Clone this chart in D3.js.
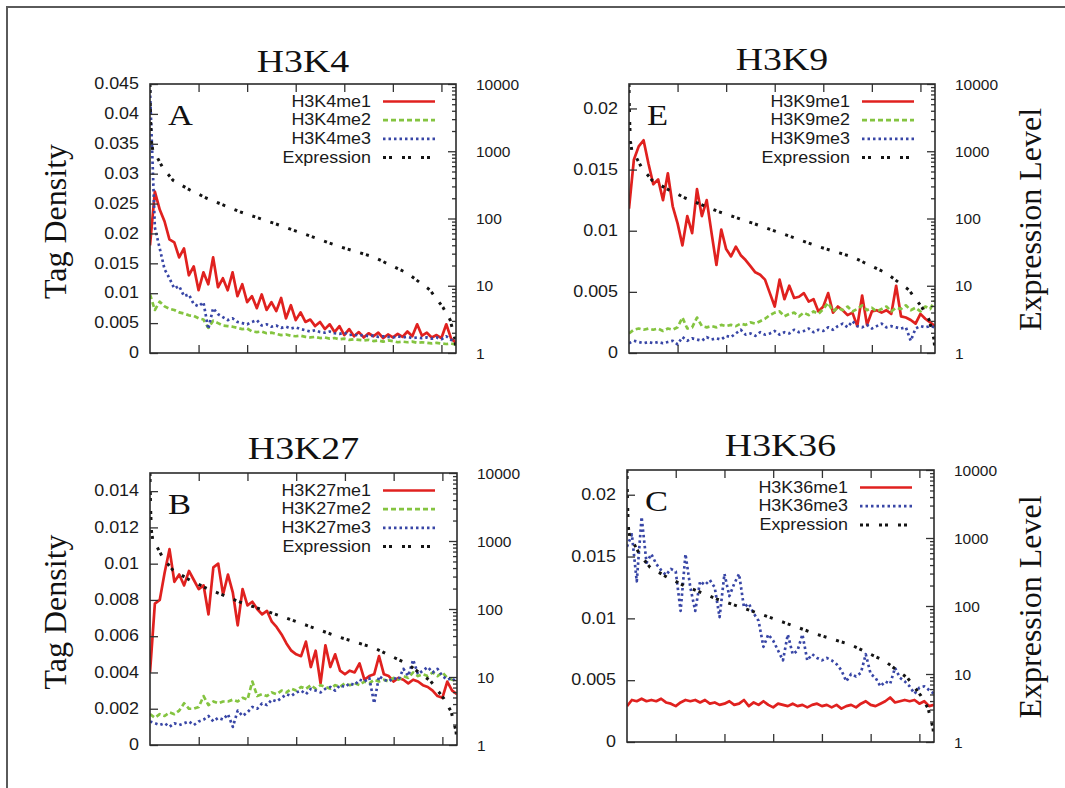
<!DOCTYPE html>
<html>
<head>
<meta charset="utf-8">
<script src="https://cdn.jsdelivr.net/npm/d3@7"></script>
<style>
  body { margin: 0; background: #fff; }
  svg { display: block; }
</style>
</head>
<body>
<svg id="fig" width="1065" height="788"></svg>
<script>
// ---- Tag density per expression-ranked gene bin (bins of 200 genes, highest expression first) ----
const h3k4me1 = [0.018,0.027,0.024,0.022,0.019,0.0185,0.016,0.0175,0.013,0.0145,
  0.0105,0.0135,0.0115,0.016,0.011,0.0125,0.0105,0.0135,0.0095,0.0115,
  0.0085,0.0095,0.0075,0.0098,0.0072,0.0085,0.007,0.0092,0.0058,0.008,
  0.0055,0.0068,0.0052,0.0056,0.0045,0.0052,0.004,0.0048,0.0035,0.0045,
  0.003,0.004,0.0028,0.0035,0.0026,0.0033,0.0028,0.0034,0.0025,0.0031,
  0.0026,0.0032,0.0027,0.0036,0.0028,0.0048,0.0029,0.0034,0.0026,0.003,
  0.0025,0.0048,0.0024,0.0017];
const h3k4me2 = [0.0098,0.0072,0.0086,0.0078,0.0074,0.0072,0.0068,0.0066,0.0063,0.0062,
  0.0058,0.0056,0.0042,0.0054,0.005,0.0046,0.0045,0.0044,0.0042,0.004,
  0.0041,0.0036,0.0035,0.0036,0.0033,0.0034,0.0032,0.003,0.0031,0.0029,
  0.0028,0.0029,0.0027,0.0026,0.0027,0.0025,0.0026,0.0024,0.0025,0.0023,
  0.0024,0.0022,0.0023,0.0022,0.0021,0.0022,0.002,0.0021,0.0019,0.0021,
  0.002,0.0018,0.0019,0.0018,0.0019,0.0017,0.0018,0.0017,0.0016,0.0017,
  0.0016,0.0015,0.0016,0.0014];
const h3k4me3 = [0.044,0.021,0.0175,0.014,0.0125,0.0108,0.0112,0.0095,0.0098,0.0082,
  0.0078,0.0085,0.004,0.0075,0.0065,0.006,0.0055,0.0058,0.0052,0.005,
  0.0048,0.0052,0.0055,0.0046,0.0048,0.0044,0.0046,0.0042,0.0044,0.0041,
  0.0043,0.004,0.0038,0.0036,0.0038,0.0035,0.0034,0.0036,0.0033,0.0032,
  0.0034,0.003,0.0031,0.0029,0.003,0.0028,0.0029,0.0027,0.0028,0.0027,
  0.0026,0.0028,0.0026,0.0027,0.0025,0.0026,0.0025,0.0026,0.0024,0.0026,
  0.0023,0.0028,0.0022,0.002];

const h3k9me1 = [0.0118,0.0158,0.0169,0.0174,0.0155,0.0138,0.0142,0.0125,0.0147,0.012,
  0.0106,0.0088,0.0112,0.0098,0.0134,0.0112,0.0125,0.0098,0.0072,0.0101,
  0.0085,0.0079,0.0087,0.008,0.0076,0.0071,0.0066,0.0064,0.006,0.0049,
  0.0038,0.006,0.0044,0.0055,0.0045,0.0046,0.0049,0.0042,0.0044,0.0034,
  0.0038,0.0049,0.0033,0.0038,0.0035,0.0031,0.0033,0.0022,0.0047,0.0023,
  0.0034,0.0035,0.0033,0.0035,0.0032,0.0055,0.003,0.0029,0.0027,0.0024,
  0.0032,0.0028,0.0025,0.0022];
const h3k9me2 = [0.0016,0.0019,0.002,0.0019,0.002,0.0019,0.002,0.0018,0.002,0.0019,
  0.0021,0.0029,0.002,0.0021,0.0029,0.0022,0.0021,0.0022,0.0021,0.0023,
  0.0022,0.0023,0.0022,0.0024,0.0023,0.0025,0.0024,0.0026,0.0028,0.0031,
  0.0033,0.0034,0.003,0.0032,0.0033,0.003,0.0033,0.0031,0.0034,0.0032,
  0.0036,0.0041,0.0034,0.0037,0.0035,0.0038,0.0034,0.0036,0.0039,0.0035,
  0.0037,0.0034,0.0036,0.0038,0.0034,0.0037,0.0036,0.0039,0.0035,0.0037,
  0.0034,0.0038,0.0036,0.0043];
const h3k9me3 = [0.0008,0.001,0.0009,0.0008,0.0009,0.0008,0.0009,0.0008,0.0009,0.001,
  0.0007,0.0013,0.001,0.0012,0.0011,0.001,0.0013,0.0011,0.0012,0.0011,
  0.0014,0.0013,0.0016,0.0019,0.0015,0.0016,0.0014,0.0017,0.0015,0.0016,
  0.0018,0.0015,0.0017,0.0016,0.0019,0.0017,0.0018,0.002,0.0017,0.0019,
  0.0018,0.0021,0.0019,0.0022,0.0024,0.0021,0.0026,0.0022,0.0021,0.0023,
  0.002,0.0022,0.0024,0.0021,0.0022,0.0021,0.002,0.0021,0.001,0.002,
  0.0022,0.0021,0.0022,0.0021];

const h3k27me1 = [0.004,0.0078,0.008,0.0095,0.0108,0.009,0.0094,0.0088,0.0096,0.0091,
  0.0086,0.0088,0.0072,0.0098,0.01,0.0083,0.0094,0.0084,0.0066,0.0086,
  0.0077,0.0079,0.0075,0.0072,0.0074,0.0068,0.0065,0.0061,0.0056,0.0052,
  0.005,0.0049,0.0057,0.0043,0.0052,0.0034,0.0055,0.0043,0.005,0.0041,
  0.0039,0.0041,0.004,0.0045,0.0036,0.0038,0.0039,0.0049,0.0039,0.0038,
  0.0035,0.0037,0.0036,0.0034,0.0036,0.0035,0.0033,0.0032,0.003,0.0027,
  0.0026,0.0035,0.003,0.0028];
const h3k27me2 = [0.0017,0.0015,0.0017,0.0016,0.0018,0.0017,0.0019,0.0023,0.002,0.002,
  0.0021,0.0027,0.0022,0.0024,0.0023,0.0024,0.0024,0.0025,0.0024,0.0026,
  0.0025,0.0035,0.0027,0.0028,0.0027,0.0029,0.0028,0.003,0.0029,0.0031,
  0.003,0.0032,0.0031,0.0033,0.0031,0.0033,0.0032,0.0031,0.0033,0.0032,
  0.0034,0.0033,0.0034,0.0033,0.0035,0.0034,0.0036,0.0035,0.0036,0.0035,
  0.0037,0.0036,0.0038,0.0037,0.004,0.0038,0.0039,0.0038,0.004,0.0038,
  0.004,0.0037,0.0036,0.0035];
const h3k27me3 = [0.0013,0.0012,0.0011,0.0012,0.001,0.0012,0.0011,0.0012,0.0013,0.0011,
  0.0013,0.0014,0.0016,0.0013,0.0015,0.0014,0.0017,0.001,0.0019,0.0016,
  0.0018,0.0021,0.002,0.0023,0.0022,0.0025,0.0024,0.0026,0.0028,0.0027,
  0.0029,0.003,0.0028,0.0031,0.003,0.0029,0.0031,0.0032,0.003,0.0033,
  0.0032,0.0034,0.0033,0.0036,0.0035,0.0037,0.0023,0.0038,0.0036,0.0035,
  0.0037,0.0036,0.0042,0.0038,0.0047,0.0039,0.0041,0.0043,0.004,0.0042,
  0.0038,0.0036,0.0037,0.0034];

const h3k36me1 = [0.0029,0.0034,0.0033,0.0035,0.0033,0.0034,0.0033,0.0035,0.0032,0.0031,
  0.0029,0.0032,0.0034,0.0033,0.0034,0.0032,0.0034,0.0031,0.0032,0.003,
  0.0031,0.0033,0.003,0.0031,0.0034,0.0029,0.0032,0.003,0.0033,0.003,
  0.0028,0.0031,0.003,0.0029,0.0031,0.0029,0.003,0.0028,0.003,0.0031,
  0.0029,0.003,0.0028,0.003,0.0027,0.0029,0.003,0.0028,0.0031,0.0033,
  0.003,0.0029,0.0031,0.0033,0.0036,0.0032,0.0033,0.0034,0.0033,0.0034,
  0.0031,0.0033,0.0029,0.003];
const h3k36me3 = [0.0158,0.0168,0.013,0.0182,0.0145,0.0152,0.0144,0.0139,0.0135,0.014,
  0.0138,0.0106,0.0152,0.0125,0.0106,0.013,0.0127,0.0131,0.0125,0.0101,
  0.0136,0.0118,0.0128,0.0136,0.0109,0.0112,0.0104,0.0098,0.0077,0.0087,
  0.0082,0.0074,0.0066,0.0087,0.0071,0.0074,0.0087,0.0066,0.0071,0.0068,
  0.0066,0.0068,0.0066,0.0063,0.0058,0.0049,0.0055,0.0053,0.0056,0.0071,
  0.0055,0.0052,0.0045,0.0049,0.0047,0.006,0.0052,0.0049,0.0045,0.0039,
  0.0044,0.0045,0.0042,0.0039];

// ---- Expression level (right axis, log) along the same ranked bins ----
const exprBin   = [0, 0.06, 0.16, 0.3, 0.6, 1.44, 2.68, 4.74, 8.24, 11.7, 18.5, 25.3, 32.3, 39.1, 45.9, 52.9, 57.6, 60.3, 61.8, 62.8, 63];
const exprLevel = [10000, 5000, 2500, 1400, 1000, 820, 560, 370, 265, 200, 126, 86, 57, 38, 27, 15.5, 8.7, 4.8, 3.1, 1.6, 1.0];

// ---- Axis ticks ----
const binTicks = [10, 20, 30, 40, 50, 60];
const tagTicksK4 = [0, 0.005, 0.01, 0.015, 0.02, 0.025, 0.03, 0.035, 0.04, 0.045];
const tagTicksK9 = [0, 0.005, 0.01, 0.015, 0.02];
const tagTicksK27 = [0, 0.002, 0.004, 0.006, 0.008, 0.01, 0.012, 0.014];
const tagTicksK36 = [0, 0.005, 0.01, 0.015, 0.02];
const exprTicks = [1, 10, 100, 1000, 10000];
const exprMinorTicks = [2,3,4,5,6,7,8,9, 20,30,40,50,60,70,80,90, 200,300,400,500,600,700,800,900, 2000,3000,4000,5000,6000,7000,8000,9000];

// ---- Styles ----
const SANS = "'Liberation Sans', Arial, Helvetica, sans-serif";
const SERIF = "'Liberation Serif', 'Times New Roman', serif";
const STYLE = {
  me1:  { color: "#e0211f", width: 2.7, dash: null },
  me2:  { color: "#84c440", width: 2.7, dash: "5,3" },
  me3:  { color: "#3846a6", width: 2.7, dash: "2.5,3" },
  expr: { color: "#141414", width: 3,   dash: "3,3,3,10" }
};

const panels = [
  { title: "H3K4", letter: "A", left: 150, top: 84, width: 306, height: 269, titleY: 72,
    yMax: 0.045, yTicks: tagTicksK4, leftTitle: true, rightTitle: false,
    series: [["H3K4me1", h3k4me1, "me1"], ["H3K4me2", h3k4me2, "me2"], ["H3K4me3", h3k4me3, "me3"]] },
  { title: "H3K9", letter: "E", left: 629, top: 84, width: 306, height: 269, titleY: 70,
    yMax: 0.022, yTicks: tagTicksK9, leftTitle: false, rightTitle: true,
    series: [["H3K9me1", h3k9me1, "me1"], ["H3K9me2", h3k9me2, "me2"], ["H3K9me3", h3k9me3, "me3"]] },
  { title: "H3K27", letter: "B", left: 150, top: 473, width: 307, height: 272, titleY: 459,
    yMax: 0.015, yTicks: tagTicksK27, leftTitle: true, rightTitle: false,
    series: [["H3K27me1", h3k27me1, "me1"], ["H3K27me2", h3k27me2, "me2"], ["H3K27me3", h3k27me3, "me3"]] },
  { title: "H3K36", letter: "C", left: 627, top: 470, width: 307, height: 272, titleY: 456,
    yMax: 0.022, yTicks: tagTicksK36, leftTitle: false, rightTitle: true,
    series: [["H3K36me1", h3k36me1, "me1"], ["H3K36me3", h3k36me3, "me3"]] }
];

const svg = d3.select("#fig");

// outer figure frame (top and left edges)
svg.append("path")
  .attr("d", d3.line()([[7, 788], [7, 7], [1065, 7]]))
  .attr("fill", "none").attr("stroke", "#5a5a5a").attr("stroke-width", 2);

// text helper; sx widens glyphs horizontally
function label(g, x, y, s, o) {
  const t = g.append("text")
    .attr("transform", `translate(${x},${y})` + (o.rotate ? ` rotate(${o.rotate})` : "") + ` scale(${o.sx || 1},1)`)
    .attr("font-family", o.family || SANS)
    .attr("font-size", o.size)
    .attr("text-anchor", o.anchor || "start")
    .attr("fill", o.color || "#1a1a1a")
    .text(s);
  if (o.baseline) t.attr("dominant-baseline", o.baseline);
  return t;
}

const fmtTag = v => String(+v.toFixed(4));

panels.forEach((p, pi) => {
  const g = svg.append("g");
  const right = p.left + p.width, bottom = p.top + p.height;
  const x = d3.scaleLinear().domain([0, h3k4me1.length - 1]).range([p.left, right]);
  const y = d3.scaleLinear().domain([0, p.yMax]).range([bottom, p.top]);
  const y2 = d3.scaleLog().domain([1, 10000]).range([bottom, p.top]);

  const clipId = "clip" + pi;
  g.append("clipPath").attr("id", clipId)
    .append("rect").attr("x", p.left).attr("y", p.top).attr("width", p.width).attr("height", p.height);

  const plot = g.append("g").attr("clip-path", `url(#${clipId})`);
  const tagLine = d3.line().x((d, i) => x(i)).y(d => y(d));
  const exprLine = d3.line().x((d, i) => x(exprBin[i])).y(d => y2(d));

  p.series.forEach(([name, vals, key]) => {
    const st = STYLE[key];
    plot.append("path").datum(vals)
      .attr("d", tagLine)
      .attr("fill", "none").attr("stroke", st.color).attr("stroke-width", st.width)
      .attr("stroke-linejoin", "round")
      .attr("stroke-dasharray", st.dash);
  });
  plot.append("path").datum(exprLevel)
    .attr("d", exprLine)
    .attr("fill", "none").attr("stroke", STYLE.expr.color).attr("stroke-width", STYLE.expr.width)
    .attr("stroke-dasharray", STYLE.expr.dash);

  // inward ticks
  const tickStyle = sel => {
    sel.select(".domain").remove();
    sel.selectAll(".tick line").attr("stroke", "#333").attr("stroke-width", 1.3);
    sel.selectAll(".tick text").remove();
  };
  g.append("g").attr("transform", `translate(${p.left},0)`)
    .call(d3.axisLeft(y).tickValues(p.yTicks).tickSize(-8)).call(tickStyle);
  g.append("g").attr("transform", `translate(0,${bottom})`)
    .call(d3.axisBottom(x).tickValues(binTicks).tickSize(-8)).call(tickStyle);
  g.append("g").attr("transform", `translate(0,${p.top})`)
    .call(d3.axisTop(x).tickValues(binTicks).tickSize(-8)).call(tickStyle);
  g.append("g").attr("transform", `translate(${right},0)`)
    .call(d3.axisRight(y2).tickValues(exprTicks).tickSize(-8)).call(tickStyle);
  g.append("g").attr("transform", `translate(${right},0)`)
    .call(d3.axisRight(y2).tickValues(exprMinorTicks).tickSize(-4)).call(tickStyle);

  // frame
  g.append("rect").attr("x", p.left).attr("y", p.top).attr("width", p.width).attr("height", p.height)
    .attr("fill", "none").attr("stroke", "#2b2b2b").attr("stroke-width", 1.6);

  // tick labels
  p.yTicks.forEach(v => label(g, p.left - 11, y(v), fmtTag(v), { size: 16, sx: 1.12, anchor: "end", baseline: "central" }));
  exprTicks.forEach(v => label(g, right + 20, y2(v), String(v), { size: 15.5, sx: 1.0, anchor: "start", baseline: "central" }));

  // titles
  label(g, p.left + p.width / 2, p.titleY, p.title, { size: 31, family: SERIF, sx: 1.22, anchor: "middle", color: "#111" });
  label(g, p.left + 18, p.top + 41, p.letter, { size: 30, family: SERIF, sx: 1.15, anchor: "start", color: "#111" });

  if (p.leftTitle)
    label(g, 55, p.top + p.height / 2 + 3, "Tag Density", { size: 32, family: SERIF, anchor: "middle", baseline: "central", rotate: -90, color: "#111" });
  if (p.rightTitle)
    label(g, 1030, p.top + p.height / 2 + 1, "Expression Level", { size: 32, family: SERIF, anchor: "middle", baseline: "central", rotate: -90, color: "#111" });

  // legend
  const entries = p.series.map(([name, , key]) => [name, key]).concat([["Expression", "expr"]]);
  entries.forEach(([name, key], k) => {
    const ly = p.top + 17.5 + 18.7 * k;
    label(g, p.left + 221, ly, name, { size: 16, sx: 1.12, anchor: "end", baseline: "central" });
    const st = STYLE[key];
    g.append("path")
      .attr("d", d3.line()([[p.left + 233, ly], [p.left + 285, ly]]))
      .attr("stroke", st.color).attr("stroke-width", st.width)
      .attr("stroke-dasharray", st.dash).attr("fill", "none");
  });
});
</script>
</body>
</html>
